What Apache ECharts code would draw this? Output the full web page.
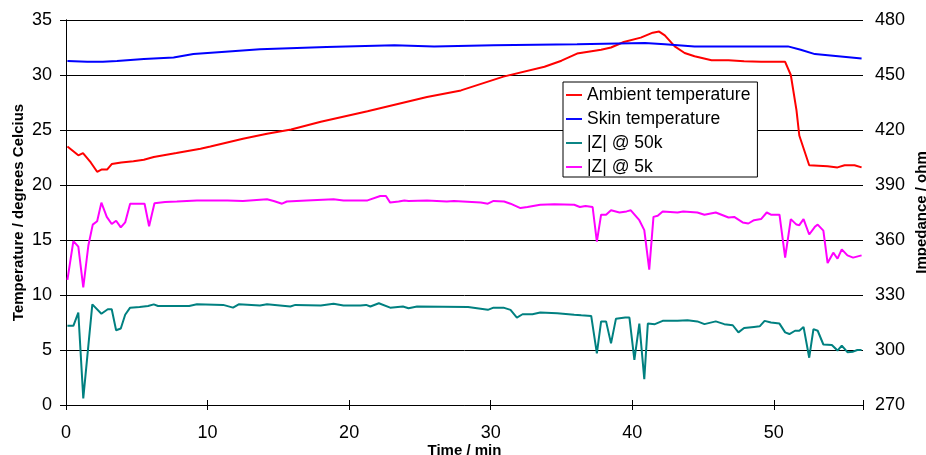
<!DOCTYPE html>
<html lang="en">
<head>
    <meta charset="UTF-8">
    <script src="https://cdn.jsdelivr.net/npm/echarts@6/dist/echarts.min.js"></script>
    <title>Temperature and impedance</title>
    <style>
        html, body { margin: 0; padding: 0; background: #fff; }
        #chart { width: 926px; height: 455px; }
    </style>
</head>
<body>
<div id="chart"></div>
<script>
    // time in minutes, temperatures in degrees C
    const ambientTime = [0.1, 0.87, 1.2, 1.75, 2.2, 2.5, 2.9, 3.23, 3.9, 4.76, 5.5, 6.2, 7.8, 9.5, 10.2, 12.5, 14.2, 15.9, 18.0, 21.3, 25.5, 27.9, 30.9, 33.8, 35.0, 36.1, 37.8, 38.5, 39.4, 40.6, 41.45, 41.9, 42.3, 43.0, 43.7, 44.4, 45.6, 46.8, 47.9, 49.1, 50.8, 51.2, 51.6, 51.8, 52.5, 53.8, 54.5, 55.0, 55.7, 56.2]
    const ambientTemp = [23.5, 22.7, 22.9, 22.05, 21.2, 21.4, 21.4, 21.9, 22.05, 22.15, 22.3, 22.55, 22.9, 23.3, 23.5, 24.2, 24.65, 25.05, 25.75, 26.7, 28.0, 28.6, 29.85, 30.75, 31.3, 31.95, 32.3, 32.5, 33.0, 33.4, 33.85, 33.95, 33.6, 32.6, 32.0, 31.7, 31.35, 31.35, 31.25, 31.2, 31.2, 30.0, 26.8, 24.5, 21.8, 21.7, 21.6, 21.8, 21.8, 21.6]

    const skinTime = [0.1, 1.5, 2.6, 3.6, 5.5, 7.6, 9.0, 11.0, 13.7, 18.4, 23.2, 26.0, 30.2, 36.1, 40.9, 42.3, 44.4, 46.8, 51.0, 51.9, 52.9, 56.2]
    const skinTemp = [31.27, 31.2, 31.2, 31.27, 31.45, 31.6, 31.9, 32.1, 32.35, 32.55, 32.7, 32.6, 32.7, 32.8, 32.9, 32.8, 32.6, 32.6, 32.6, 32.3, 31.9, 31.5]

    // impedance in ohm
    const z50kTime = [0.1, 0.52, 0.87, 1.22, 1.86, 2.5, 2.95, 3.23, 3.54, 3.87, 4.18, 4.53, 5.2, 5.8, 6.2, 6.5, 7.3, 8.7, 9.25, 11.1, 11.8, 12.2, 13.7, 14.2, 15.85, 16.2, 18.0, 18.9, 19.6, 20.8, 21.2, 21.5, 22.1, 22.9, 23.8, 24.2, 24.8, 28.4, 29.8, 30.2, 30.9, 31.4, 31.85, 32.25, 32.95, 33.5, 34.7, 35.9, 36.4, 37.1, 37.5, 37.8, 38.15, 38.5, 38.85, 39.5, 39.8, 40.15, 40.5, 40.85, 41.1, 41.6, 42.15, 43.2, 43.9, 44.6, 45.1, 45.9, 46.5, 47.1, 47.5, 47.9, 48.6, 49.0, 49.35, 49.8, 50.4, 50.8, 51.1, 51.5, 51.8, 52.1, 52.5, 52.8, 53.1, 53.5, 54.1, 54.5, 54.8, 55.2, 55.6, 55.9, 56.2]
    const z50k = [313.2, 313.2, 320.4, 273.6, 324.9, 319.8, 322.2, 322.2, 310.8, 311.7, 319.2, 323.1, 323.4, 324.0, 324.9, 324.0, 324.0, 324.0, 324.9, 324.6, 323.1, 324.9, 324.3, 324.9, 323.7, 324.6, 324.3, 325.2, 324.3, 324.3, 324.6, 323.7, 325.5, 323.1, 323.7, 322.8, 323.7, 323.4, 321.9, 323.1, 323.1, 321.9, 317.7, 319.5, 319.5, 320.4, 320.1, 319.2, 318.9, 318.6, 298.2, 315.6, 315.6, 303.6, 317.1, 317.7, 317.7, 294.6, 314.4, 284.1, 314.4, 314.1, 315.9, 315.9, 316.2, 315.6, 314.1, 315.6, 314.1, 313.5, 309.6, 312.0, 312.6, 312.9, 315.9, 315.0, 314.4, 309.6, 308.7, 310.5, 310.5, 312.6, 295.8, 311.4, 310.5, 303.0, 302.7, 299.7, 302.4, 298.8, 299.1, 300.0, 300.0]

    const z5kTime = [0.1, 0.52, 0.87, 1.22, 1.58, 1.89, 2.2, 2.5, 2.88, 3.23, 3.54, 3.87, 4.18, 4.53, 5.55, 5.87, 6.25, 7.0, 7.83, 9.25, 11.4, 12.5, 14.2, 14.67, 15.26, 15.6, 17.0, 18.9, 19.6, 21.3, 22.2, 22.6, 22.9, 23.5, 23.9, 24.2, 25.5, 26.9, 27.4, 29.3, 29.8, 30.2, 30.95, 31.4, 32.1, 32.6, 33.5, 34.5, 35.9, 36.3, 36.7, 37.2, 37.5, 37.8, 38.15, 38.5, 39.1, 39.6, 39.9, 40.5, 40.85, 41.2, 41.5, 41.8, 42.15, 43.2, 43.6, 44.6, 45.1, 45.9, 46.8, 47.2, 47.8, 48.2, 48.6, 49.1, 49.5, 49.8, 50.4, 50.8, 51.2, 51.6, 51.8, 52.1, 52.5, 52.9, 53.1, 53.5, 53.8, 54.2, 54.5, 54.8, 55.2, 55.6, 56.2]
    const z5k = [338.2, 359.4, 356.4, 334.2, 357.0, 368.4, 370.2, 380.4, 372.6, 368.7, 370.5, 366.9, 369.6, 379.8, 379.8, 367.5, 380.1, 380.7, 381.0, 381.6, 381.6, 381.3, 382.2, 381.3, 379.8, 381.0, 381.6, 382.2, 381.6, 381.6, 384.0, 384.0, 380.4, 381.0, 381.6, 381.3, 381.6, 381.0, 381.3, 380.4, 379.8, 381.3, 381.0, 379.8, 377.4, 378.0, 379.2, 379.5, 379.2, 378.0, 378.6, 378.0, 359.1, 373.8, 373.8, 376.2, 375.0, 375.6, 376.2, 370.8, 365.4, 343.8, 372.6, 373.2, 375.6, 375.0, 375.6, 375.0, 373.8, 375.0, 372.3, 372.6, 369.6, 369.0, 370.8, 371.4, 375.0, 373.8, 373.8, 350.4, 371.4, 368.4, 368.1, 371.4, 363.0, 367.2, 368.4, 365.1, 347.4, 353.1, 349.8, 354.9, 351.6, 350.4, 351.6]

    function pairs(xs, ys) {
        return xs.map(function (x, i) { return [x, ys[i]] })
    }

    const font = 'Liberation Sans, Arial, sans-serif'
    // flat bar used as the legend key, so it looks like a short line
    const lineIcon = 'path://M0,0L20,0L20,2.4L0,2.4Z'
    const nameStyle = { fontFamily: font, fontSize: 15, fontWeight: 'bold', color: '#000' }

    function line(name, xs, ys, color, yIndex) {
        return {
            name: name,
            type: 'line',
            yAxisIndex: yIndex,
            symbol: 'none',
            lineStyle: { color: color, width: 2 },
            itemStyle: { color: color },
            data: pairs(xs, ys)
        }
    }

    var chart = echarts.init(document.getElementById('chart'), null, { renderer: 'canvas' })
    var option = {
        animation: false,
        backgroundColor: '#fff',
        textStyle: { fontFamily: font },
        grid: { left: 66, right: 63, top: 20, bottom: 50, containLabel: false, outerBoundsMode: 'none' },
        legend: {
            orient: 'vertical',
            left: 563,
            top: 82,
            padding: [4, 7, 1, 3],
            itemGap: 6,
            itemWidth: 16,
            itemHeight: 14,
            icon: lineIcon,
            backgroundColor: '#fff',
            borderColor: '#000',
            borderWidth: 1,
            borderRadius: 0,
            textStyle: { fontFamily: font, fontSize: 17.5, color: '#000' },
            data: ['Ambient temperature', 'Skin temperature', '|Z| @ 50k', '|Z| @ 5k']
        },
        xAxis: [{
            type: 'value',
            min: 0,
            max: 56.3,
            interval: 10,
            name: 'Time / min',
            nameLocation: 'middle',
            nameGap: 38,
            nameMoveOverlap: false,
            nameTextStyle: nameStyle,
            axisLine: { lineStyle: { color: '#000', width: 1 } },
            axisTick: { show: true, length: 5, lineStyle: { color: '#000' } },
            axisLabel: {
                fontFamily: font, fontSize: 18, color: '#000', margin: 19,
                formatter: function (v) { return v % 10 === 0 ? String(v) : '' }
            },
            splitLine: { show: false }
        }, {
            // inner half of the crossing ticks
            type: 'value',
            position: 'bottom',
            min: 0,
            max: 56.3,
            interval: 10,
            axisLine: { show: false },
            axisTick: { show: true, inside: true, length: 5, lineStyle: { color: '#000' } },
            axisLabel: { show: false },
            splitLine: { show: false }
        }],
        yAxis: [{
            type: 'value',
            min: 0,
            max: 35,
            interval: 5,
            name: 'Temperature / degrees Celcius',
            nameLocation: 'middle',
            nameGap: 40,
            nameMoveOverlap: false,
            nameTextStyle: nameStyle,
            axisLine: { show: true, lineStyle: { color: '#000', width: 1 } },
            axisTick: { show: true, length: 6, lineStyle: { color: '#000' } },
            axisLabel: { fontFamily: font, fontSize: 18, color: '#000', margin: 14 },
            splitLine: { show: true, lineStyle: { color: '#000', width: 1 } }
        }, {
            type: 'value',
            position: 'right',
            min: 270,
            max: 480,
            interval: 30,
            name: 'Impedance / ohm',
            nameLocation: 'middle',
            nameRotate: 90,
            nameGap: 51,
            nameMoveOverlap: false,
            nameTextStyle: nameStyle,
            axisLine: { show: true, lineStyle: { color: '#000', width: 1 } },
            axisTick: { show: true, length: 6, lineStyle: { color: '#000' } },
            axisLabel: { fontFamily: font, fontSize: 18, color: '#000', margin: 12 },
            splitLine: { show: false }
        }],
        series: [
            line('Ambient temperature', ambientTime, ambientTemp, '#ff0000', 0),
            line('Skin temperature', skinTime, skinTemp, '#0000ff', 0),
            line('|Z| @ 50k', z50kTime, z50k, '#008080', 1),
            line('|Z| @ 5k', z5kTime, z5k, '#ff00ff', 1)
        ]
    }
    chart.setOption(option)
</script>
</body>
</html>
